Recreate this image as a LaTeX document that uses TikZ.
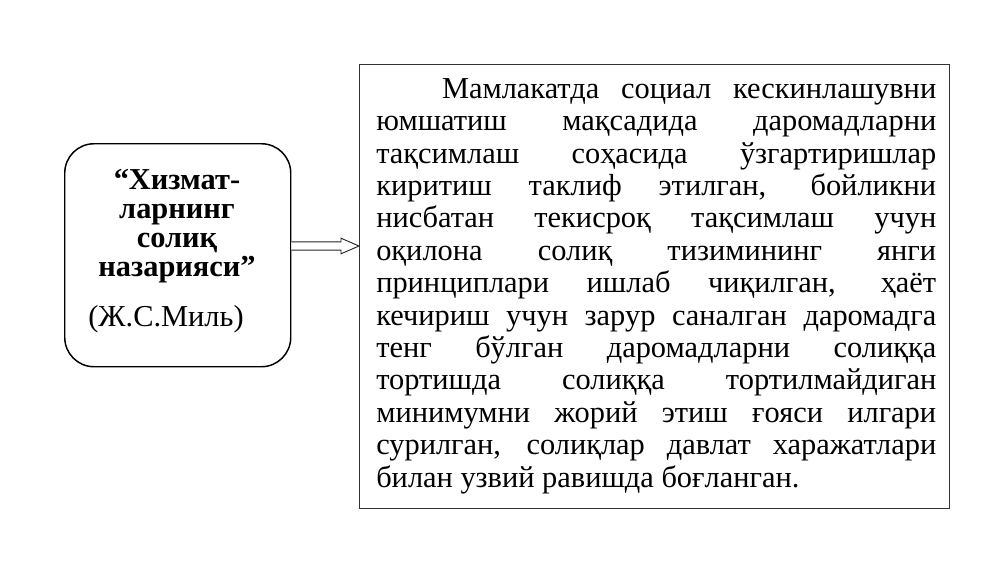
\documentclass[tikz,border=0pt]{standalone}
\usepackage{fontspec}
\setmainfont{Liberation Serif}
\usetikzlibrary{calc}
\begin{document}
\begin{tikzpicture}[x=0.75pt,y=-0.75pt,
  rbox/.style={draw=black!80, line width=1.1pt, minimum width=442.5pt, minimum height=333pt, anchor=north west, inner sep=0pt},
  lbox/.style={draw=black, line width=1.1pt, rounded corners=22pt, minimum width=169.5pt, minimum height=167.25pt, anchor=north west, inner sep=0pt},
  bodytext/.style={font=\fontsize{22.8}{26}\selectfont, inner sep=0pt, anchor=base west},
  titletext/.style={font=\fontsize{22.8}{21.9}\selectfont\bfseries, inner sep=0pt, anchor=base, align=center},
  arrowline/.style={draw=black!85, line width=0.7pt, fill=white}
]
\useasboundingbox (0,0) rectangle (1000,562);
\fill[white] (0,0) rectangle (1000,562);

\node[rbox] (rb) at (359,64) {};
\node[lbox] (lb) at (64,143) {};

\node[titletext] (title) at (177,276.7) {“Хизмат-\\ларнинг\\солиқ\\назарияси”};
\node[font=\fontsize{22.8}{26}\selectfont, inner sep=0pt, anchor=base] (author) at (166,326.7) {(Ж.С.Миль)};

\foreach \t [count=\i] in {
  {\hspace*{49.3pt}Мамлакатда социал кескинлашувни},
  {юмшатиш мақсадида даромадларни},
  {тақсимлаш соҳасида ўзгартиришлар},
  {киритиш таклиф этилган, бойликни},
  {нисбатан текисроқ тақсимлаш учун},
  {оқилона солиқ тизимининг янги},
  {принциплари ишлаб чиқилган, ҳаёт},
  {кечириш учун зарур саналган даромадга},
  {тенг бўлган даромадларни солиққа},
  {тортишда солиққа тортилмайдиган},
  {минимумни жорий этиш ғояси илгари},
  {сурилган, солиқлар давлат харажатлари}}
{
  \node[bodytext] (line\i) at (376,{98.3+32.4*(\i-1)}) {\makebox[420pt][s]{\t}};
}
\node[bodytext] (line13) at (376,{98.3+32.4*12}) {билан узвий равишда боғланган.};

% hollow double arrow
\coordinate (as) at (lb.east |- 0,246);
\coordinate (ae) at (rb.west |- 0,246);
\draw[arrowline] ($(as)+(0,-4.2)$) -- ($(ae)+(-18,-4.2)$) -- ($(ae)+(-18,-7.8)$) -- (ae)
  -- ($(ae)+(-18,7.8)$) -- ($(ae)+(-18,4.2)$) -- ($(as)+(0,4.2)$);
\end{tikzpicture}
\end{document}
